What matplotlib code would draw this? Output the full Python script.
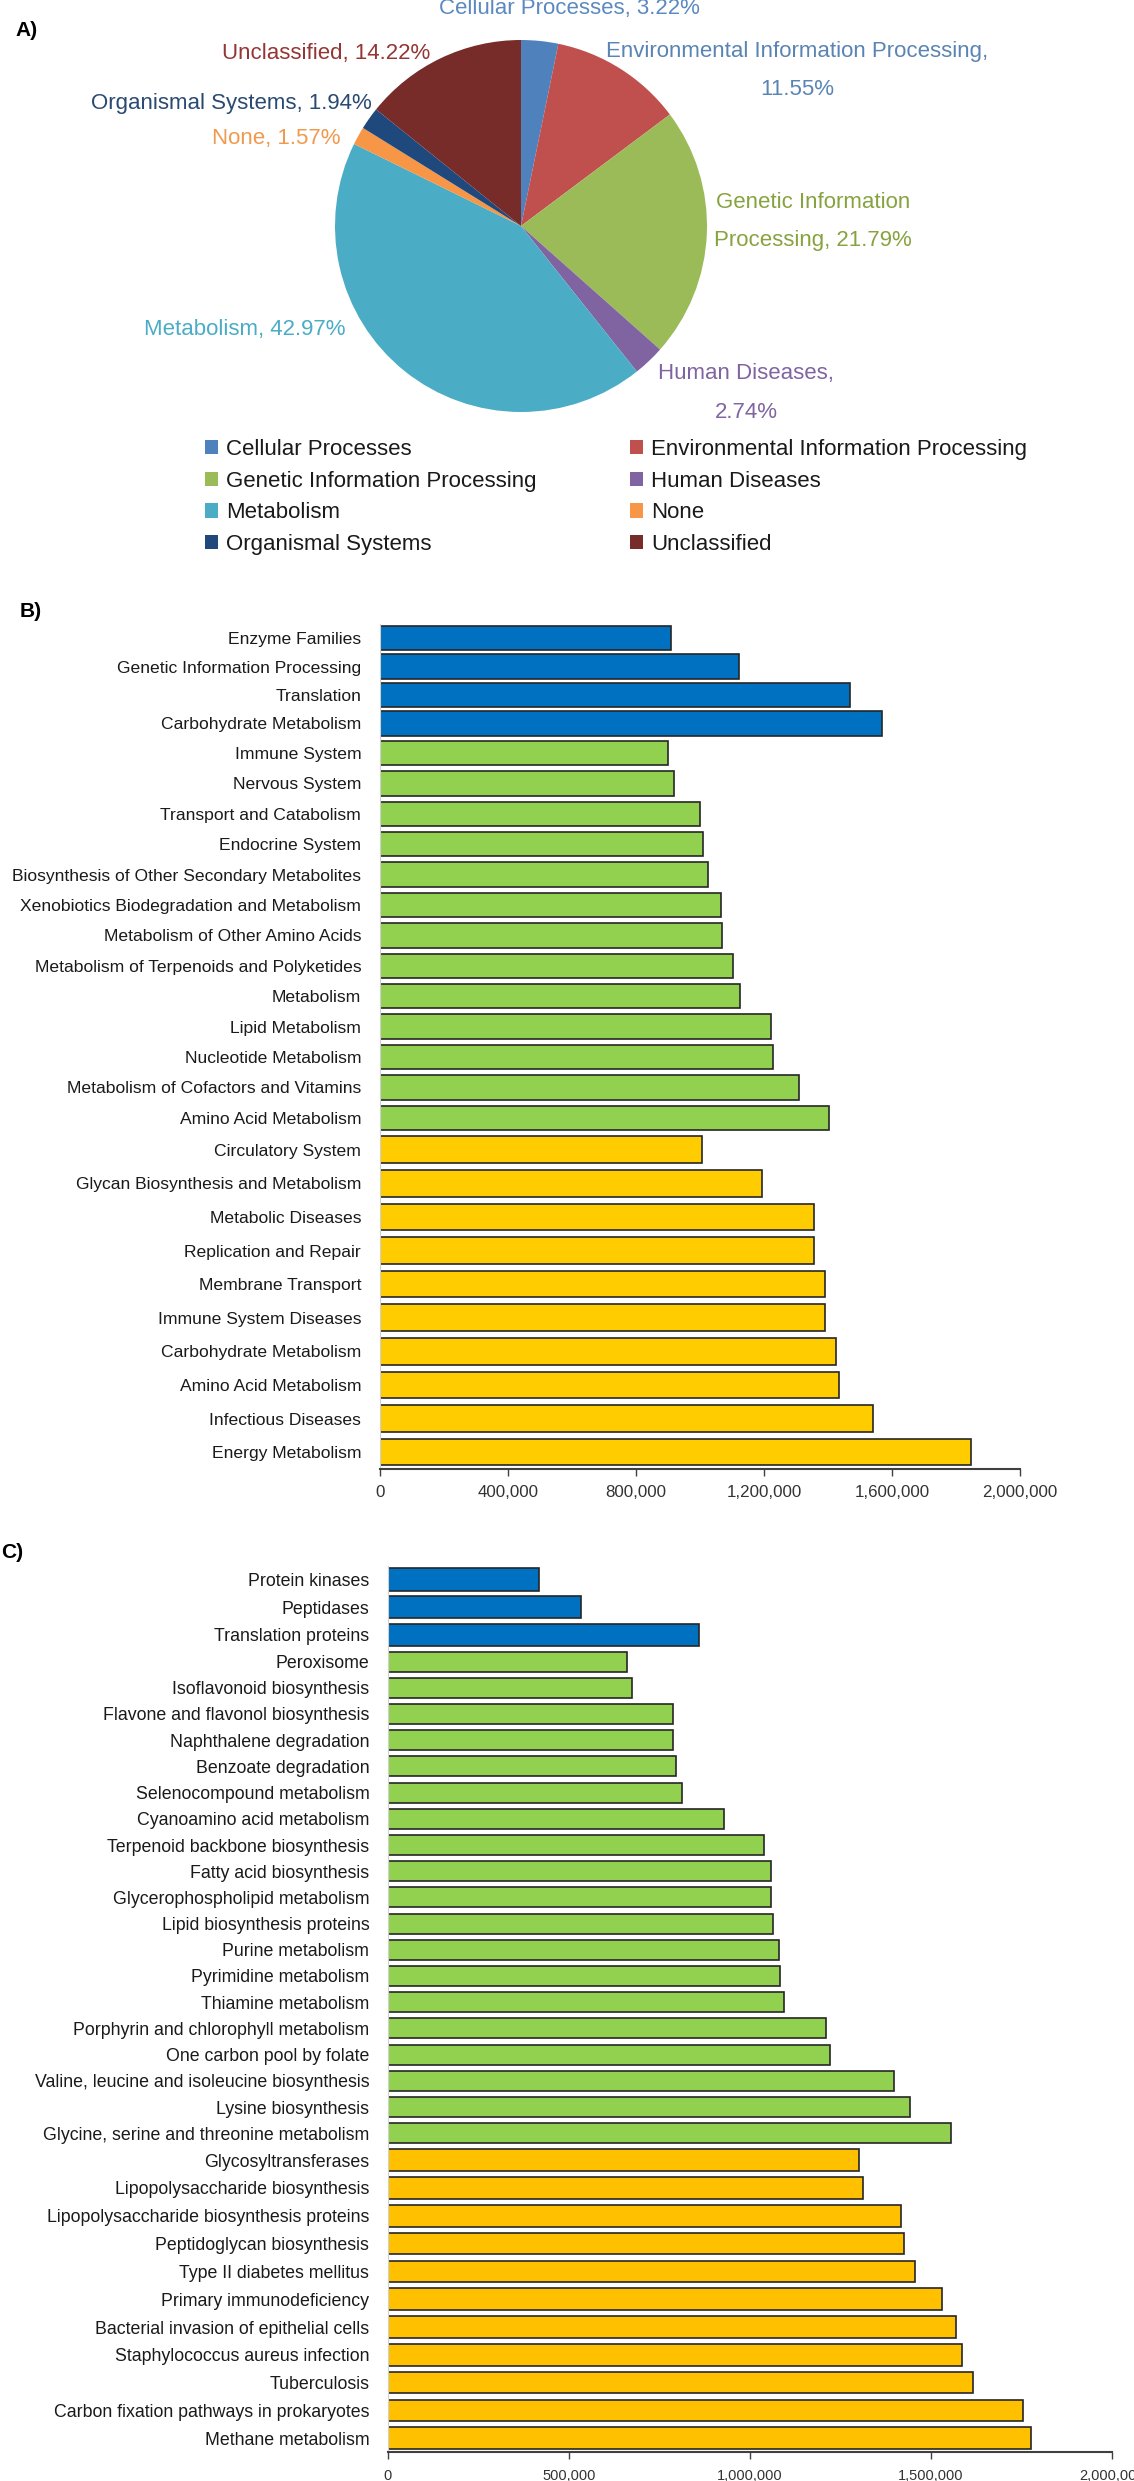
import matplotlib.pyplot as plt
from matplotlib.ticker import FuncFormatter

plt.rcParams['font.family'] = ['Liberation Sans', 'DejaVu Sans']

# ---- panel A data (KEGG level 1 share, %)
pie_names = ['Cellular Processes', 'Environmental Information Processing',
             'Genetic Information Processing', 'Human Diseases', 'Metabolism',
             'None', 'Organismal Systems', 'Unclassified']
pie_pcts = [3.22, 11.55, 21.79, 2.74, 42.97, 1.57, 1.94, 14.22]

# ---- panel B data
b_blue_names = ['Enzyme Families', 'Genetic Information Processing',
                'Translation', 'Carbohydrate Metabolism']
b_blue_vals = [910000, 1122000, 1470000, 1568000]
b_green_names = ['Immune System', 'Nervous System', 'Transport and Catabolism',
                 'Endocrine System', 'Biosynthesis of Other Secondary Metabolites',
                 'Xenobiotics Biodegradation and Metabolism',
                 'Metabolism of Other Amino Acids',
                 'Metabolism of Terpenoids and Polyketides', 'Metabolism',
                 'Lipid Metabolism', 'Nucleotide Metabolism',
                 'Metabolism of Cofactors and Vitamins', 'Amino Acid Metabolism']
b_green_vals = [900000, 919000, 999000, 1008000, 1026000, 1065000, 1070000,
                1104000, 1125000, 1223000, 1227000, 1310000, 1403000]
b_yellow_names = ['Circulatory System', 'Glycan Biosynthesis and Metabolism',
                  'Metabolic Diseases', 'Replication and Repair',
                  'Membrane Transport', 'Immune System Diseases',
                  'Carbohydrate Metabolism', 'Amino Acid Metabolism',
                  'Infectious Diseases', 'Energy Metabolism']
b_yellow_vals = [1006000, 1195000, 1355000, 1355000, 1390000, 1392000,
                 1424000, 1433000, 1541000, 1847000]

# ---- panel C data
c_blue_names = ['Protein kinases', 'Peptidases', 'Translation proteins']
c_blue_vals = [418000, 533000, 859000]
c_green_names = ['Peroxisome', 'Isoflavonoid biosynthesis',
                 'Flavone and flavonol biosynthesis', 'Naphthalene degradation',
                 'Benzoate degradation', 'Selenocompound metabolism',
                 'Cyanoamino acid metabolism', 'Terpenoid backbone biosynthesis',
                 'Fatty acid biosynthesis', 'Glycerophospholipid metabolism',
                 'Lipid biosynthesis proteins', 'Purine metabolism',
                 'Pyrimidine metabolism', 'Thiamine metabolism',
                 'Porphyrin and chlorophyll metabolism', 'One carbon pool by folate',
                 'Valine, leucine and isoleucine biosynthesis',
                 'Lysine biosynthesis', 'Glycine, serine and threonine metabolism']
c_green_vals = [661000, 675000, 786000, 788000, 796000, 812000, 929000,
                1040000, 1059000, 1059000, 1063000, 1079000, 1083000, 1093000,
                1210000, 1222000, 1398000, 1442000, 1556000]
c_yellow_names = ['Glycosyltransferases', 'Lipopolysaccharide biosynthesis',
                  'Lipopolysaccharide biosynthesis proteins',
                  'Peptidoglycan biosynthesis', 'Type II diabetes mellitus',
                  'Primary immunodeficiency', 'Bacterial invasion of epithelial cells',
                  'Staphylococcus aureus infection', 'Tuberculosis',
                  'Carbon fixation pathways in prokaryotes', 'Methane metabolism']
c_yellow_vals = [1301000, 1313000, 1418000, 1426000, 1457000, 1531000,
                 1570000, 1586000, 1616000, 1754000, 1776000]

W, H = 1134, 2481
fig = plt.figure(figsize=(W / 100, H / 100), dpi=100)


def px_rect(x0, y0, x1, y1):
    return [x0 / W, 1 - y1 / H, (x1 - x0) / W, (y1 - y0) / H]


# ---------------- A) pie
pie_colors = ['#4f81bd', '#c0504d', '#9bbb59', '#8064a2', '#4bacc6',
              '#f79646', '#1f497d', '#772c2a']
label_colors = ['#5b89c0', '#5a84b4', '#87a33f', '#8064a2', '#4bacc6',
                '#ef9a4e', '#2a4a72', '#943634']
# label anchor in pie units (x, y, ha)
label_pos = [(0.26, 1.167, 'center'), (1.484, 0.836, 'center'),
             (1.57, 0.024, 'center'), (1.21, -0.898, 'center'),
             (-0.941, -0.559, 'right'), (-0.973, 0.473, 'right'),
             (-0.801, 0.661, 'right'), (-0.489, 0.93, 'right')]
wraps = {1: (', ', ',\n'), 2: ('Information ', 'Information\n'), 3: (', ', ',\n')}

cx, cy, r = 521, 226, 186
ax = fig.add_axes(px_rect(cx - r, cy - r, cx + r, cy + r))
wedges, _ = ax.pie(pie_pcts, colors=pie_colors, startangle=90,
                   counterclock=False, radius=1)
ax.set_xlim(-1, 1)
ax.set_ylim(-1, 1)
for i, (name, pct) in enumerate(zip(pie_names, pie_pcts)):
    s = f'{name}, {pct:.2f}%'
    if i in wraps:
        s = s.replace(*wraps[i])
    x, y, ha = label_pos[i]
    ax.text(x, y, s, ha=ha, va='center', color=label_colors[i],
            fontsize=16, linespacing=2.1, multialignment='center')

order = [0, 2, 4, 6, 1, 3, 5, 7]
fig.legend([wedges[i] for i in order], [pie_names[i] for i in order],
           loc='upper left', bbox_to_anchor=(205 / W, 1 - 439 / H),
           ncol=2, frameon=False, fontsize=16, handlelength=0.6,
           handleheight=0.6, handletextpad=0.35, columnspacing=4.2,
           labelspacing=0.48, borderaxespad=0, borderpad=0,
           labelcolor='#1a1a1a')


# ---------------- B) and C) bars
def bar_panel(groups, x0, x1, top, step, label_size, pad, tick_size, tick_pad):
    y = top
    axes = []
    for names, vals, color, st, h in groups:
        n = len(names)
        a = fig.add_axes(px_rect(x0, y, x1, y + n * st))
        a.barh(range(n), vals, height=h, color=color,
               edgecolor='#262626', linewidth=1.2)
        a.set_ylim(n - 0.5, -0.5)
        a.set_xlim(0, 2000000)
        a.set_yticks(range(n))
        a.set_yticklabels(names, fontsize=label_size, color='#1a1a1a')
        a.tick_params(axis='y', length=0, pad=pad)
        a.set_xticks([])
        for s in ['top', 'right', 'bottom']:
            a.spines[s].set_visible(False)
        a.spines['left'].set_color('#d0d0d0')
        a.patch.set_alpha(0)
        axes.append(a)
        y += n * st
    last = axes[-1]
    last.spines['bottom'].set_visible(True)
    last.spines['bottom'].set_color('#404040')
    last.spines['bottom'].set_linewidth(1.5)
    last.set_xticks(range(0, 2000001, step))
    last.xaxis.set_major_formatter(FuncFormatter(lambda v, p: f'{v:,.0f}'))
    last.tick_params(axis='x', length=5, width=1, color='#404040',
                     labelsize=tick_size, labelcolor='#333333', pad=tick_pad)


bar_panel([(b_blue_names, b_blue_vals, '#0070c0', 28.5, 0.87),
           (b_green_names, b_green_vals, '#92d050', 30.4, 0.8),
           (b_yellow_names, b_yellow_vals, '#ffcc00', 33.6, 0.79)],
          380, 1020, 623.75, 400000, 12.6, 13.5, 12.2, 6.5)

bar_panel([(c_blue_names, c_blue_vals, '#0070c0', 27.6, 0.8),
           (c_green_names, c_green_vals, '#92d050', 26.2, 0.77),
           (c_yellow_names, c_yellow_vals, '#ffc000', 27.8, 0.78)],
          388, 1112, 1565.7, 500000, 12.8, 13.5, 10.5, 7)

fig.text(15 / W, 1 - 31 / H, 'A)', fontsize=15, weight='bold', va='center')
fig.text(20 / W, 1 - 611 / H, 'B)', fontsize=15, weight='bold', va='center')
fig.text(1 / W, 1 - 1552 / H, 'C)', fontsize=15, weight='bold', va='center')

fig.savefig('out.png', dpi=100, facecolor='white')
